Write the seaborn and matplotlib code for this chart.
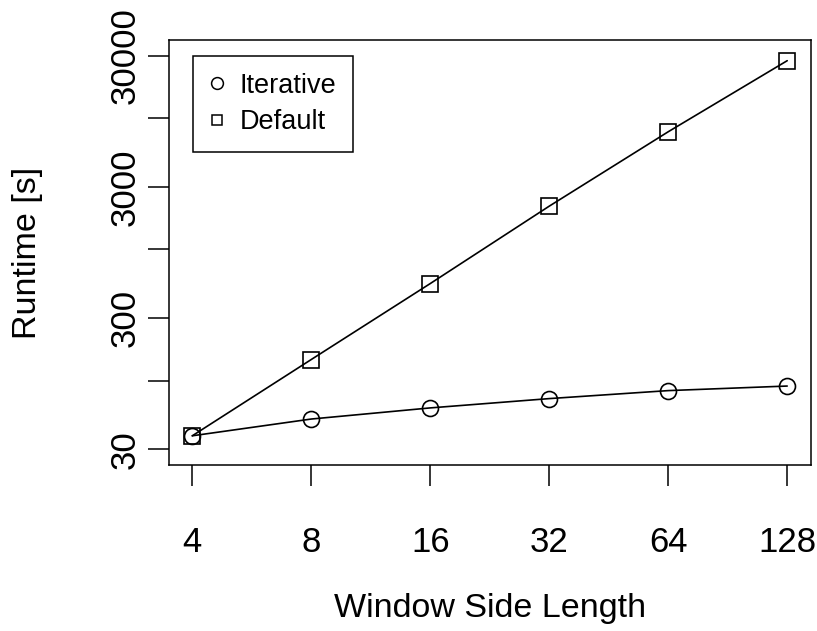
import matplotlib
matplotlib.use("Agg")
import matplotlib.pyplot as plt
from matplotlib.lines import Line2D
import numpy as np
import pandas as pd
import seaborn as sns

# Runtime of the two methods per window side length
window_sizes = [4, 8, 16, 32, 64, 128]
iterative_runtime = [38, 51, 62, 73, 84, 91]
default_runtime = [38, 145, 550, 2140, 7900, 27500]
methods = ["Iterative", "Default"]

y_ticks = [30, 100, 300, 1000, 3000, 10000, 30000]
y_tick_labels = ["30", "", "300", "", "3000", "", "30000"]
x_tick_labels = [str(v) for v in window_sizes]

df = pd.DataFrame({
    "window": window_sizes * 2,
    "runtime": iterative_runtime + default_runtime,
    "method": [methods[0]] * len(window_sizes) + [methods[1]] * len(window_sizes),
})

sns.set_style("ticks")
plt.rcParams["font.family"] = ["Liberation Sans", "DejaVu Sans"]
plt.rcParams["text.color"] = "black"

W, H = 817, 631
fig = plt.figure(figsize=(W / 100, H / 100), dpi=100)
left, right, top, bottom = 168.5, 811, 40, 465
ax = fig.add_axes([left / W, 1 - bottom / H, (right - left) / W, (bottom - top) / H])

marker_map = {"Iterative": "o", "Default": "s"}
sns.lineplot(
    data=df, x="window", y="runtime", style="method",
    markers=marker_map, dashes=False, color="black",
    markersize=11.5, markerfacecolor="none", markeredgecolor="black",
    markeredgewidth=1.2, linewidth=1.2, legend=False, ax=ax,
)

ax.set_xscale("log", base=2)
ax.set_yscale("log")
ax.set_xlim(2 ** 1.8, 2 ** 7.2)
ax.set_ylim(30 / 10 ** 0.12, 30000 * 10 ** 0.12)

ax.set_xticks(window_sizes)
ax.set_xticklabels(x_tick_labels)
ax.set_yticks(y_ticks)
ax.set_yticklabels(y_tick_labels)
ax.minorticks_off()
plt.setp(ax.get_yticklabels(), rotation=90, va="center")

ax.tick_params(axis="both", which="major", length=15, width=1.1,
               color="black", labelsize=25, labelcolor="black")
ax.tick_params(axis="x", pad=29)
ax.tick_params(axis="y", pad=4)

for sp in ax.spines.values():
    sp.set_visible(True)
    sp.set_color("black")
    sp.set_linewidth(1.1)

ax.set_xlabel("Window Side Length", fontsize=24.5, color="black")
ax.set_ylabel("Runtime [s]", fontsize=24.5, color="black")
ax.xaxis.label.set_va("center")
ax.yaxis.label.set_va("center")
ax.xaxis.set_label_coords((490 - left) / (right - left), -(609 - bottom) / (bottom - top))
ax.yaxis.set_label_coords(-(left - 28) / (right - left), 0.5)

handles = [
    Line2D([], [], linestyle="none", marker="o", markersize=8.5,
           markerfacecolor="none", markeredgecolor="black", markeredgewidth=1.1),
    Line2D([], [], linestyle="none", marker="s", markersize=7.5,
           markerfacecolor="none", markeredgecolor="black", markeredgewidth=1.1),
]
leg = ax.legend(
    handles, methods, loc="upper left",
    bbox_to_anchor=((193 - left) / (right - left), 1 - (56 - top) / (bottom - top)),
    borderaxespad=0, fontsize=19.5, frameon=True, fancybox=False,
    edgecolor="black", framealpha=1, borderpad=0.62, handlelength=0.5,
    handletextpad=0.6, labelspacing=0.38, labelcolor="black",
)
leg.get_frame().set_linewidth(1.1)

fig.savefig("out.png", dpi=100, facecolor="white")
